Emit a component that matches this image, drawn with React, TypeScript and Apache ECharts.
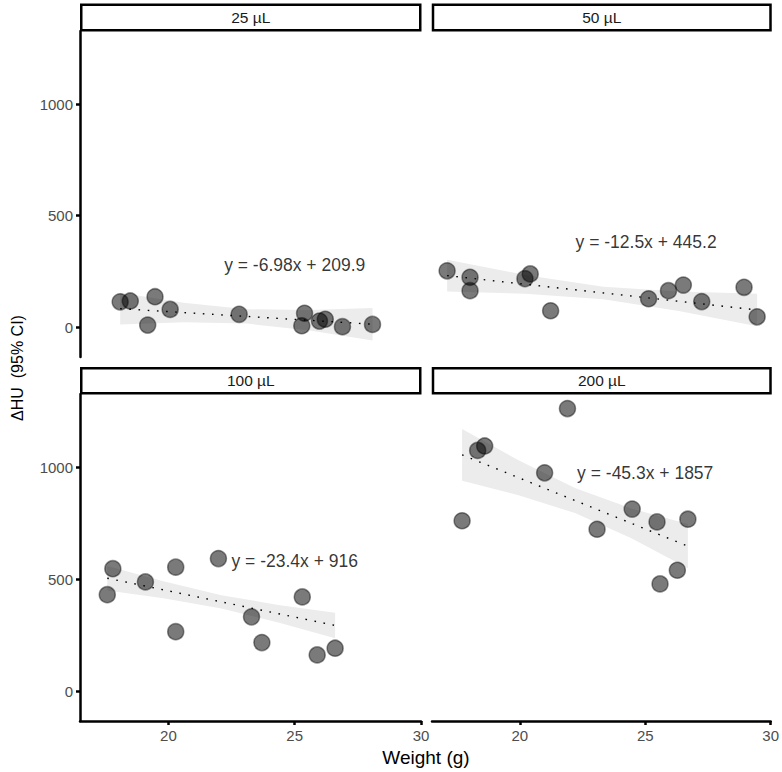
import React, { useEffect, useRef } from "react";
import * as echarts from "echarts";

// ---- Data ----
const panelNames = ["25 µL", "50 µL", "100 µL", "200 µL"];

const weight25 = [18.09, 18.49, 19.47, 19.18, 20.07, 22.8, 25.39, 25.28, 25.98, 26.21, 26.89, 28.08];
const dhu25 = [114, 118, 137, 10, 80, 58, 63, 7, 28, 36, 3, 13];

const weight50 = [17.1, 18.01, 18.01, 20.19, 20.4, 21.21, 25.1, 25.89, 26.48, 27.21, 28.89, 29.41];
const dhu50 = [253, 224, 164, 218, 239, 74, 128, 164, 189, 115, 179, 47];

const weight100 = [17.8, 17.58, 19.09, 20.29, 20.29, 21.98, 23.29, 23.7, 25.3, 25.89, 26.6];
const dhu100 = [547, 431, 488, 554, 266, 592, 332, 217, 421, 162, 192];

const weight200 = [21.9, 18.32, 18.6, 20.99, 17.7, 24.48, 23.08, 25.47, 26.7, 26.28, 25.59];
const dhu200 = [1262, 1075, 1095, 975, 761, 813, 723, 756, 768, 540, 479];

// fitted lines (end points)
const fitX25 = [18.09, 28.08];
const fitY25 = [83.6, 13.9];
const fitX50 = [17.1, 29.41];
const fitY50 = [231.5, 77.6];
const fitX100 = [17.58, 26.6];
const fitY100 = [504.6, 293.6];
const fitX200 = [17.7, 26.7];
const fitY200 = [1055.2, 647.5];

// 95% CI bands
const bandX25 = [18.09, 20.6, 23.1, 25.6, 28.08];
const bandLo25 = [12.6, 22.1, 16.7, -14.8, -59.1];
const bandHi25 = [154.6, 110.1, 80.7, 77.2, 86.9];

const bandX50 = [17.1, 20.2, 23.3, 26.3, 29.41];
const bandLo50 = [160.5, 150.7, 125.9, 72.5, 4.6];
const bandHi50 = [302.5, 234.7, 181.9, 160.5, 150.6];

const bandX100 = [17.58, 19.8, 22.1, 24.35, 26.6];
const bandLo100 = [449.6, 414.7, 368.9, 307.2, 236.6];
const bandHi100 = [559.6, 490.7, 428.9, 385.2, 350.6];

const bandX200 = [17.7, 19.95, 22.2, 24.45, 26.7];
const bandLo200 = [940.2, 875.3, 795.3, 683.4, 548.5];
const bandHi200 = [1170.2, 1031.3, 907.3, 815.4, 746.5];

// equation labels
const eqText = ["y = -6.98x + 209.9", "y = -12.5x + 445.2", "y = -23.4x + 916", "y = -45.3x + 1857"];
const eqX = [25, 25, 25, 25];
const eqY = [280, 380, 580, 973];

const xTicks = [20, 25, 30];
const yTicks = [0, 500, 1000];

const FONT = "Liberation Sans, Arial, Helvetica, sans-serif";

export default function App() {
  const ref = useRef<HTMLDivElement>(null);

  useEffect(() => {
    if (!ref.current) return;
    const chart = echarts.init(ref.current, undefined, { renderer: "svg" });

    const weights = [weight25, weight50, weight100, weight200];
    const dhus = [dhu25, dhu50, dhu100, dhu200];
    const fitXs = [fitX25, fitX50, fitX100, fitX200];
    const fitYs = [fitY25, fitY50, fitY100, fitY200];
    const bandXs = [bandX25, bandX50, bandX100, bandX200];
    const bandLos = [bandLo25, bandLo50, bandLo100, bandLo200];
    const bandHis = [bandHi25, bandHi50, bandHi100, bandHi200];

    const layout = [
      { left: 80, top: 31, width: 341, height: 326 },
      { left: 432, top: 31, width: 340, height: 326 },
      { left: 80, top: 394, width: 341, height: 327 },
      { left: 432, top: 394, width: 340, height: 327 },
    ];

    const grids = layout.map((l) => ({ ...l, containLabel: false }));

    const xAxes = layout.map((_, i) => {
      const bottom = i >= 2;
      return {
        type: "value",
        gridIndex: i,
        min: 16.5,
        max: 30,
        show: bottom,
        splitLine: { show: false },
        axisLine: { show: true, onZero: false, lineStyle: { color: "#000", width: 2.5 } },
        axisTick: {
          show: true,
          customValues: xTicks,
          length: 4,
          lineStyle: { color: "#000", width: 2.5 },
        },
        axisLabel: {
          show: true,
          customValues: xTicks,
          formatter: (v: number) => String(v),
          color: "#4d4d4d",
          fontSize: 15,
          fontFamily: FONT,
          margin: 7,
        },
      };
    });

    const yAxes = layout.map((_, i) => {
      const leftCol = i % 2 === 0;
      return {
        type: "value",
        gridIndex: i,
        min: -133,
        max: 1327,
        show: leftCol,
        splitLine: { show: false },
        axisLine: { show: true, onZero: false, lineStyle: { color: "#000", width: 2.5 } },
        axisTick: {
          show: true,
          customValues: yTicks,
          length: 4,
          lineStyle: { color: "#000", width: 2.5 },
        },
        axisLabel: {
          show: true,
          customValues: yTicks,
          formatter: (v: number) => String(v),
          color: "#4d4d4d",
          fontSize: 15,
          fontFamily: FONT,
          margin: 7,
        },
      };
    });

    const series: any[] = [];
    for (let i = 0; i < 4; i++) {
      const bx = bandXs[i];
      const lo = bandLos[i];
      const hi = bandHis[i];
      series.push({
        type: "custom",
        xAxisIndex: i,
        yAxisIndex: i,
        silent: true,
        z: 1,
        data: [[bx[0], hi[0]]],
        renderItem: (_params: any, api: any) => {
          const pts: number[][] = [];
          for (let k = 0; k < bx.length; k++) pts.push(api.coord([bx[k], hi[k]]));
          for (let k = bx.length - 1; k >= 0; k--) pts.push(api.coord([bx[k], lo[k]]));
          return {
            type: "polygon",
            shape: { points: pts },
            style: { fill: "#ececec", stroke: "none" },
          };
        },
      });
      series.push({
        type: "line",
        xAxisIndex: i,
        yAxisIndex: i,
        silent: true,
        z: 2,
        symbol: "none",
        data: fitXs[i].map((x, k) => [x, fitYs[i][k]]),
        lineStyle: { color: "#000", width: 1.4, type: [1.6, 7.6] },
      });
      series.push({
        type: "scatter",
        xAxisIndex: i,
        yAxisIndex: i,
        z: 3,
        symbolSize: 16,
        data: weights[i].map((x, k) => [x, dhus[i][k]]),
        itemStyle: {
          color: "rgba(0,0,0,0.65)",
          borderColor: "rgba(0,0,0,0.55)",
          borderWidth: 1.5,
        },
      });
      series.push({
        type: "scatter",
        xAxisIndex: i,
        yAxisIndex: i,
        z: 4,
        silent: true,
        symbolSize: 1,
        itemStyle: { color: "rgba(0,0,0,0)" },
        data: [[eqX[i], eqY[i]]],
        label: {
          show: true,
          position: "inside",
          formatter: eqText[i],
          fontSize: 17.5,
          fontFamily: FONT,
          color: "#000",
        },
      });
    }

    const stripBoxes = [
      { x: 81.25, y: 4.75, w: 339, h: 25.5 },
      { x: 433, y: 4.75, w: 337.5, h: 25.5 },
      { x: 81.25, y: 368.25, w: 339, h: 25 },
      { x: 433, y: 368.25, w: 337.5, h: 25 },
    ];

    const graphics: any[] = [];
    stripBoxes.forEach((b, i) => {
      graphics.push({
        type: "rect",
        shape: { x: b.x, y: b.y, width: b.w, height: b.h },
        style: { fill: "#fff", stroke: "#000", lineWidth: 2.5 },
        z: 10,
      });
      graphics.push({
        type: "text",
        x: b.x + b.w / 2,
        y: b.y + b.h / 2,
        style: {
          text: panelNames[i],
          fontSize: 15.5,
          fontFamily: FONT,
          fill: "#1a1a1a",
          align: "center",
          verticalAlign: "middle",
        },
        z: 11,
      });
    });
    graphics.push({
      type: "text",
      x: 17,
      y: 368,
      rotation: Math.PI / 2,
      style: {
        text: "ΔHU  (95% CI)",
        fontSize: 16,
        fontFamily: FONT,
        fill: "#000",
        align: "center",
        verticalAlign: "middle",
      },
    });
    graphics.push({
      type: "text",
      x: 426,
      y: 757,
      style: {
        text: "Weight (g)",
        fontSize: 19,
        fontFamily: FONT,
        fill: "#000",
        align: "center",
        verticalAlign: "middle",
      },
    });

    chart.setOption({
      animation: false,
      backgroundColor: "#fff",
      textStyle: { fontFamily: FONT },
      grid: grids,
      xAxis: xAxes,
      yAxis: yAxes,
      series,
      graphic: graphics,
    });

    return () => chart.dispose();
  }, []);

  return (
    <div
      ref={ref}
      style={{ position: "fixed", left: 0, top: 0, width: 782, height: 772 }}
    />
  );
}
